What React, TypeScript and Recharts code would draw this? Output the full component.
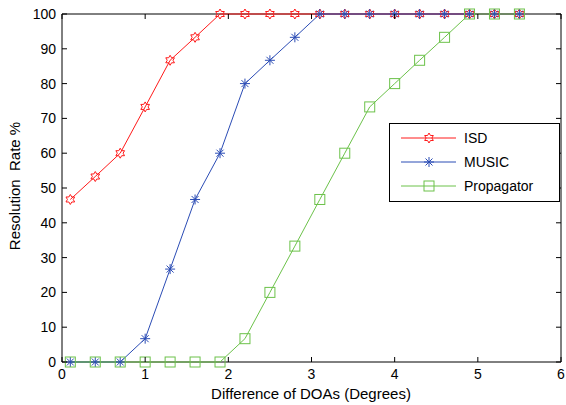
import React from "react";
import { LineChart, Line, XAxis, YAxis, ReferenceArea } from "recharts";

const doaDiff = [0.1, 0.4, 0.7, 1.0, 1.3, 1.6, 1.9, 2.2, 2.5, 2.8, 3.1, 3.4, 3.7, 4.0, 4.3, 4.6, 4.9, 5.2, 5.5];
const isd = [46.7, 53.3, 60, 73.3, 86.7, 93.3, 100, 100, 100, 100, 100, 100, 100, 100, 100, 100, 100, 100, 100];
const music = [0, 0, 0, 6.7, 26.7, 46.7, 60, 80, 86.7, 93.3, 100, 100, 100, 100, 100, 100, 100, 100, 100];
const propagator = [0, 0, 0, 0, 0, 0, 0, 6.7, 20, 33.3, 46.7, 60, 73.3, 80, 86.7, 93.3, 100, 100, 100];
const xTicks = [0, 1, 2, 3, 4, 5, 6];
const yTicks = [0, 10, 20, 30, 40, 50, 60, 70, 80, 90, 100];
const seriesNames = ["ISD", "MUSIC", "Propagator"];

const data = doaDiff.map((x, i) => ({ x, isd: isd[i], music: music[i], propagator: propagator[i] }));

const W = 566, H = 405;
const PL = 62, PR = 561, PT = 14, PB = 362;
const FONT = "'Liberation Sans', Arial, sans-serif";
const RED = "#ff1a1a", BLUE = "#2b4cb5", GREEN = "#6cc24a";

function hexagram(cx: number, cy: number, color: string, key?: any) {
  const pts: string[] = [];
  for (let k = 0; k < 12; k++) {
    const r = k % 2 === 0 ? 5 : 2.9;
    const a = (Math.PI / 6) * k - Math.PI / 2;
    pts.push(`${cx + r * Math.cos(a)},${cy + r * Math.sin(a)}`);
  }
  return <polygon key={key} points={pts.join(" ")} fill="none" stroke={color} strokeWidth={1} />;
}
function asterisk(cx: number, cy: number, color: string, key?: any) {
  const r = 5, d = 3.5;
  return (
    <g key={key} stroke={color} strokeWidth={1}>
      <line x1={cx - r} y1={cy} x2={cx + r} y2={cy} />
      <line x1={cx} y1={cy - r} x2={cx} y2={cy + r} />
      <line x1={cx - d} y1={cy - d} x2={cx + d} y2={cy + d} />
      <line x1={cx - d} y1={cy + d} x2={cx + d} y2={cy - d} />
    </g>
  );
}
function square(cx: number, cy: number, color: string, key?: any) {
  return <rect key={key} x={cx - 5} y={cy - 5} width={10} height={10} fill="none" stroke={color} strokeWidth={1} />;
}

const markers = [
  { fn: hexagram, color: RED },
  { fn: asterisk, color: BLUE },
  { fn: square, color: GREEN },
];

const mkDot = (idx: number) => (p: any) => {
  if (p.cx == null || p.cy == null) return <g key={p.key} />;
  return markers[idx].fn(p.cx, p.cy, markers[idx].color, p.key);
};

const XTick = (p: any) => {
  const x = p.x;
  return (
    <g>
      <line x1={x} y1={PB} x2={x} y2={PB - 5} stroke="#000" />
      <line x1={x} y1={PT} x2={x} y2={PT + 5} stroke="#000" />
      <text x={x} y={379} textAnchor="middle" fontSize={14} fontFamily={FONT} fill="#000">
        {p.payload.value}
      </text>
    </g>
  );
};
const YTick = (p: any) => {
  const y = p.y;
  return (
    <g>
      <line x1={PL} y1={y} x2={PL + 5} y2={y} stroke="#000" />
      <line x1={PR} y1={y} x2={PR - 5} y2={y} stroke="#000" />
      <text x={56} y={y + 5} textAnchor="end" fontSize={14} fontFamily={FONT} fill="#000">
        {p.payload.value}
      </text>
    </g>
  );
};

const LegendBox = () => (
  <svg width={172} height={80} style={{ display: "block" }}>
    <rect x={0.5} y={0.5} width={170} height={78} fill="#fff" stroke="#000" strokeWidth={1} />
    {seriesNames.map((n, i) => {
      const y = 15 + i * 24;
      return (
        <g key={n}>
          <line x1={12} y1={y} x2={67} y2={y} stroke={markers[i].color} strokeWidth={1} />
          {markers[i].fn(40, y, markers[i].color)}
          <text x={75} y={y + 5} fontSize={14} fontFamily={FONT} fill="#000">{n}</text>
        </g>
      );
    })}
  </svg>
);

export default function App() {
  return (
    <div style={{ position: "absolute", left: 0, top: 0, width: W, height: H, background: "#fff" }}>
      <LineChart width={W} height={H} data={data} margin={{ top: PT, right: W - PR, bottom: 0, left: 0 }}>
        <XAxis
          dataKey="x"
          type="number"
          domain={[0, 6]}
          ticks={xTicks}
          tick={<XTick />}
          tickLine={false}
          axisLine={false}
          interval={0}
          height={H - PB}
        />
        <YAxis
          type="number"
          domain={[0, 100]}
          ticks={yTicks}
          tick={<YTick />}
          tickLine={false}
          axisLine={false}
          interval={0}
          width={PL}
        />
        <ReferenceArea x1={0} x2={6} y1={0} y2={100} fill="none" stroke="#000" strokeWidth={1} ifOverflow="visible" />
        <Line dataKey="isd" stroke={RED} strokeWidth={1} dot={mkDot(0)} isAnimationActive={false} />
        <Line dataKey="music" stroke={BLUE} strokeWidth={1} dot={mkDot(1)} isAnimationActive={false} />
        <Line dataKey="propagator" stroke={GREEN} strokeWidth={1} dot={mkDot(2)} isAnimationActive={false} />
      </LineChart>
      <div style={{ position: "absolute", left: 389, top: 123 }}>
        <LegendBox />
      </div>
      <div style={{ position: "absolute", left: 0, top: 0, pointerEvents: "none" }}>
        <svg width={W} height={H} style={{ display: "block" }}>
          <text x={311} y={399} textAnchor="middle" fontSize={15} fontFamily={FONT} fill="#000">
            Difference of DOAs (Degrees)
          </text>
          <text
            transform="translate(20,186) rotate(-90)"
            textAnchor="middle"
            fontSize={15}
            fontFamily={FONT}
            fill="#000"
            style={{ whiteSpace: "pre" }}
          >
            {"Resolution  Rate %"}
          </text>
        </svg>
      </div>
    </div>
  );
}
